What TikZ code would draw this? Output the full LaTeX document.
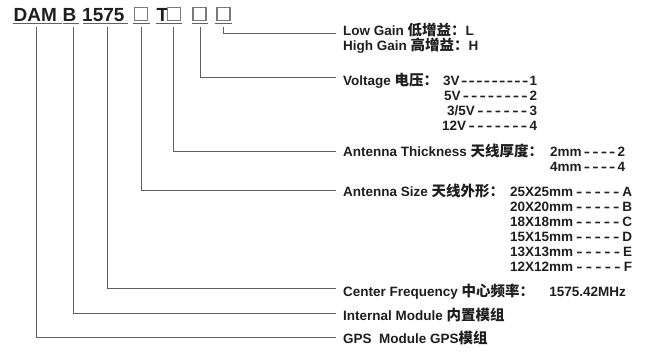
\documentclass[tikz,border=0pt]{standalone}
\usepackage{fontspec}
\usepackage{graphicx}
\setmainfont{Liberation Sans}
\newfontfamily\cjk{Noto Sans CJK SC Bold}
\definecolor{txt}{HTML}{1E1E1E}
\definecolor{ln}{HTML}{606060}
\definecolor{boxc}{HTML}{7A7A7A}
\newcount\dcnt
\newcommand\dl[1]{\dcnt=0 \loop\ifnum\dcnt<#1 \advance\dcnt by 1 \hfill\scalebox{1.4}[1]{-}\repeat\hfill}
\newcommand\zh[1]{{\cjk\fontsize{14.5}{14.5}\selectfont #1}}
\begin{document}
\begin{tikzpicture}[x=1pt,y=-1pt,
  lbl/.style={anchor=base west, inner sep=0pt, text=txt, font=\bfseries\fontsize{13.5}{13.5}\selectfont},
  valr/.style={anchor=base west, inner sep=0pt, text=txt, font=\bfseries\fontsize{13.5}{13.5}\selectfont},
  code/.style={anchor=base west, inner sep=0pt, text=txt, font=\bfseries\fontsize{19}{19}\selectfont},
  cbox/.style={draw=boxc, line width=1.1pt, minimum size=13pt, inner sep=0pt},
  conn/.style={draw=ln, line width=1pt},
  uline/.style={draw=ln, line width=1.3pt}]
\useasboundingbox (0,0) rectangle (645,351);

% code line
\node[code] (dam) at (13.5,21) {DAM};
\node[code] (b) at (62.5,21) {B};
\node[code] (num) at (82,21) {1575};
\node[cbox] (box1) at (141,14) {};
\node[code] (t) at (156.5,21) {T};
\node[cbox] (box2) at (174,14) {};
\node[cbox] (box3) at (199.5,14) {};
\node[cbox] (box4) at (223.5,14) {};

\draw[uline] (13,23.5) -- (62,23.5);
\draw[uline] (63,23.5) -- (79,23.5);
\draw[uline] (83,23.5) -- (128,23.5);
\draw[uline] (133,23.5) -- (150,23.5);
\draw[uline] (156,23.5) -- (182,23.5);
\draw[uline] (192,23.5) -- (208,23.5);
\draw[uline] (215,23.5) -- (232,23.5);

% labels
\node[lbl] (lg) at (343,35.5) {Low Gain \zh{低增益：}L};
\node[lbl] (hg) at (343,50) {High Gain \zh{高增益：}H};

\node[lbl] (volt) at (343,85) {Voltage \zh{电压：}};
\node[valr] (v1) at (443,85) {\hbox to 94pt{3V\dl{9}1}};
\node[valr] (v2) at (444,100) {\hbox to 93pt{5V\dl{8}2}};
\node[valr] (v3) at (447,115) {\hbox to 90pt{3/5V\dl{6}3}};
\node[valr] (v4) at (442,130) {\hbox to 95pt{12V\dl{7}4}};

\node[lbl] (thick) at (343,156) {Antenna Thickness \zh{天线厚度：}};
\node[valr] (t1) at (550,156) {\hbox to 75pt{2mm\dl{4}2}};
\node[valr] (t2) at (550,171) {\hbox to 75pt{4mm\dl{4}4}};

\node[lbl] (size) at (343,196) {Antenna Size \zh{天线外形：}};
\node[valr] (a1) at (510,196) {\hbox to 122pt{25X25mm\dl{5}A}};
\node[valr] (a2) at (510,211) {\hbox to 122pt{20X20mm\dl{5}B}};
\node[valr] (a3) at (510,226) {\hbox to 122pt{18X18mm\dl{5}C}};
\node[valr] (a4) at (510,241) {\hbox to 122pt{15X15mm\dl{5}D}};
\node[valr] (a5) at (510,256.5) {\hbox to 122pt{13X13mm\dl{5}E}};
\node[valr] (a6) at (510,271.5) {\hbox to 122pt{12X12mm\dl{5}F}};

\node[lbl] (cf) at (343,296) {Center Frequency \zh{中心频率：}};
\node[valr, anchor=base east] (cfv) at (626,296) {1575.42MHz};
\node[lbl] (im) at (343,320) {Internal Module \zh{内置模组}};
\node[lbl] (gps) at (343,343.5) {GPS\ \ Module GPS\zh{模组}};

% connectors
\coordinate (s1) at (36,27);  \coordinate (e1) at (336,337);
\coordinate (s2) at (73,27);  \coordinate (e2) at (336,313);
\coordinate (s3) at (107,27); \coordinate (e3) at (336,288);
\coordinate (s4) at (141,27); \coordinate (e4) at (336,190);
\coordinate (s5) at (173,27); \coordinate (e5) at (336,151);
\coordinate (s6) at (200,27); \coordinate (e6) at (336,77);
\coordinate (s7) at (223,27); \coordinate (e7) at (336,33);
\foreach \i in {1,...,7} \draw[conn] (s\i) |- (e\i);
\end{tikzpicture}
\end{document}
